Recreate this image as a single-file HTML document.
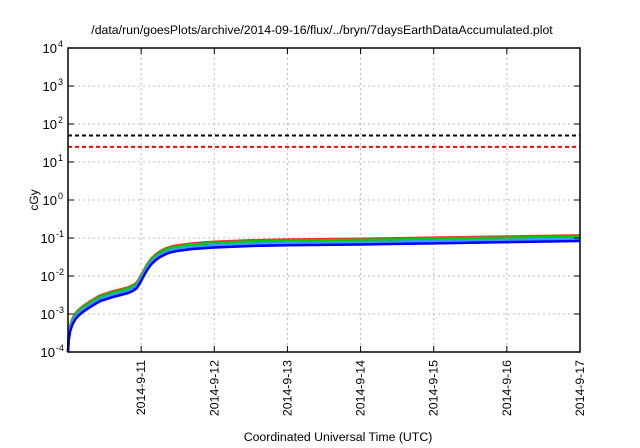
<!DOCTYPE html>
<html><head><meta charset="utf-8"><style>
body{margin:0;background:#fff;}
svg{display:block;font-family:"Liberation Sans",sans-serif;}
</style></head><body>
<svg id="chart" width="640" height="448">
<text x="322" y="34" text-anchor="middle" font-size="12.3">/data/run/goesPlots/archive/2014-09-16/flux/../bryn/7daysEarthDataAccumulated.plot</text>
<text x="338" y="441" text-anchor="middle" font-size="12.3">Coordinated Universal Time (UTC)</text>
<text x="38" y="200" text-anchor="middle" font-size="12" transform="rotate(-90 38 200)">cGy</text>
<g id="grid"></g><g id="series"></g><g id="axes"></g>
</svg>
<script>
const xTickLabels=["2014-9-11","2014-9-12","2014-9-13","2014-9-14","2014-9-15","2014-9-16","2014-9-17"];
const xTickDays=[1,2,3,4,5,6,7];
const yTickExps=[-4,-3,-2,-1,0,1,2,3,4];
const days=[0,0.01,0.03,0.06,0.1,0.14,0.2,0.3,0.44,0.6,0.72,0.82,0.89,0.94,0.98,1.03,1.08,1.13,1.2,1.26,1.33,1.4,1.5,1.7,2.0,2.5,3,4,5,6,7];
const blueLog=[-4,-3.7,-3.45,-3.28,-3.14,-3.05,-2.95,-2.82,-2.66,-2.56,-2.5,-2.45,-2.39,-2.32,-2.2,-2.02,-1.85,-1.71,-1.58,-1.5,-1.43,-1.38,-1.34,-1.29,-1.25,-1.21,-1.19,-1.17,-1.14,-1.11,-1.08];
const lightBlueOffset=0.06, greenOffset=0.12, redOffset=0.15;
const refLevels=[50,25];
const L=68,R=580,T=48,B=352;
const sx=d=>L+(R-L)*d/7;
const sy=e=>T+(4-e)*(B-T)/8;
const NS="http://www.w3.org/2000/svg";
function mk(tag,attrs,parent){const e=document.createElementNS(NS,tag);for(const k in attrs)e.setAttribute(k,attrs[k]);parent.appendChild(e);return e;}
const grid=document.getElementById('grid'),axes=document.getElementById('axes'),ser=document.getElementById('series');
xTickDays.forEach((d,i)=>{
  const x=sx(d);
  if(d<7){const g=mk('line',{x1:x,x2:x,y1:T,y2:B,stroke:'#bbb','stroke-dasharray':'2,3','stroke-width':1},grid);
  }
  mk('line',{x1:x,x2:x,y1:B,y2:B-6,stroke:'#000'},axes);
  mk('line',{x1:x,x2:x,y1:T,y2:T+6,stroke:'#000'},axes);
  const t=mk('text',{x:0,y:0,'font-size':12.3,'text-anchor':'end',transform:`translate(${x+4},${B+8}) rotate(-90)`},axes);
  t.textContent=xTickLabels[i];
  
  
});
yTickExps.forEach(e=>{
  const y=sy(e);
  if(e>-4&&e<4){const g=mk('line',{x1:L,x2:R,y1:y,y2:y,stroke:'#bbb','stroke-dasharray':'2,3','stroke-width':1},grid);
  }
  mk('line',{x1:L,x2:L+6,y1:y,y2:y,stroke:'#000'},axes);
  mk('line',{x1:R,x2:R-6,y1:y,y2:y,stroke:'#000'},axes);
  const ex=String(e);
  const base=e<0?L-13:L-11;
  const t=mk('text',{x:base,y:y+5,'font-size':13,'text-anchor':'end'},axes);
  t.textContent='10';
  
  
  const t2=mk('text',{x:base+1,y:y-1,'font-size':9},axes);
  t2.textContent=ex;
  
  
});
const frame=mk('rect',{x:L,y:T,width:R-L,height:B-T,fill:'none',stroke:'#000','stroke-width':1.5},axes);

const refColors=['#000','#f00'];
refLevels.forEach((v,i)=>{
  const y=sy(Math.log10(v));
  const l=mk('line',{x1:L,x2:R,y1:y,y2:y,stroke:refColors[i],'stroke-width':2,'stroke-dasharray':'4,3'},ser);
  
  
});
const seriesDefs=[['#e33',redOffset,'series-red'],['#0c0',greenOffset,'series-green'],['#39f',lightBlueOffset,'series-lightblue'],['#00f',0,'series-blue']];
seriesDefs.forEach(([c,off,name])=>{
  const pts=days.map((d,i)=>sx(d)+','+Math.min(B,sy(blueLog[i]+(i==0?0:off)))).join(' ');
  const p=mk('polyline',{points:pts,fill:'none',stroke:c,'stroke-width':2.5,'stroke-linejoin':'round'},ser);
  
  
});
</script>
</body></html>
